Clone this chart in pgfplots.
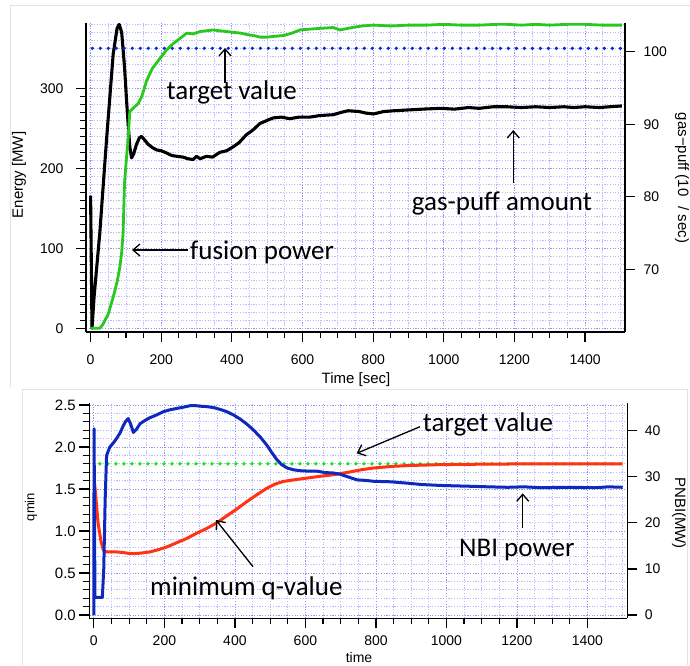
\documentclass[border=0pt]{standalone}
\usepackage{fontspec}
\setmainfont{Liberation Sans}
\newfontfamily\annfont{Carlito}
\usepackage{pgfplots}
\pgfplotsset{compat=1.18}
\usetikzlibrary{arrows.meta}

\definecolor{gridc}{RGB}{185,185,255}
\definecolor{gridm}{RGB}{145,145,250}
\definecolor{fgreen}{RGB}{40,200,30}
\definecolor{tblue}{RGB}{0,40,220}
\definecolor{qred}{RGB}{255,50,20}
\definecolor{nblue}{RGB}{15,40,190}
\definecolor{tgreen}{RGB}{20,235,20}
\definecolor{framec}{RGB}{225,225,225}

\pgfplotsset{
 base/.style={scale only axis, xmin=-13, xmax=1513,
   /pgf/number format/assume math mode=true, /pgf/number format/1000 sep={},
   ticklabel style={font=\fontsize{14}{16}\selectfont},
   axis line style={black, line width=1.6pt, -},
   tick style={black, line width=1.2pt},
   major tick length=10pt, minor tick length=6pt, tick align=outside},
 gridax/.style={scale only axis, xmin=-13, xmax=1513,
   axis line style={draw=none}, xtick distance=200, minor x tick num=3,
   xticklabels={}, yticklabels={}, major tick length=0pt, minor tick length=0pt,
   grid=both,
   minor grid style={gridc, dash pattern=on 1.2pt off 1.5pt, line width=0.8pt},
   major grid style={gridm, dash pattern=on 1.2pt off 1.5pt, line width=0.8pt}},
}
\tikzset{
 ann/.style={font=\annfont\fontsize{27}{30}\selectfont, inner sep=0pt},
 arr/.style={line width=1.3pt, -{Straight Barb[length=7pt,width=12pt]}},
}

\begin{document}
\begin{tikzpicture}
\useasboundingbox (0,0) rectangle (690pt,665pt);
% panel frames
\draw[framec, line width=1pt] (10pt,278pt) -- (10pt,659pt) -- (690pt,659pt);
\draw[framec, line width=1pt] (22pt,0pt) -- (22pt,276pt) -- (687pt,276pt) -- (687pt,0pt);

% ===== TOP =====
\begin{axis}[gridax, at={(86pt,333.3pt)}, anchor=south west, width=539pt, height=308.4pt,
  ymin=-4.2, ymax=381.3, ytick distance=100, minor y tick num=9]
\addplot[draw=none] coordinates {(0,0)};
\end{axis}

\begin{axis}[base, at={(86pt,333.3pt)}, anchor=south west, width=539pt, height=308.4pt,
  ymin=61.38, ymax=103.92, axis x line=none, axis y line*=right,
  ytick={70,80,90,100}, yticklabel style={xshift=5pt}]
\addplot[black, line width=3.1pt, line join=round] coordinates {
(0,80.16)(4,61.84)(10,66.26)(26,74.97)(45,87.78)(64,99.69)(75,103.22)(81,103.78)(88,102.67)
(96,97.93)(104,91.64)(111,86.89)(116,85.35)(122,85.90)(130,87.22)(138,88.11)(144,88.33)
(152,87.89)(163,87.22)(175,86.78)(187,86.45)(200,86.34)(216,86.01)(230,85.68)(245,85.57)
(262,85.46)(275,85.24)(290,85.13)(300,85.57)(310,85.24)(328,85.57)(345,85.46)(366,86.12)
(385,86.34)(404,86.89)(420,87.44)(441,88.55)(460,89.21)(479,90.09)(500,90.53)(517,90.87)
(540,90.98)(564,90.76)(590,90.98)(621,90.98)(650,91.20)(687,91.31)(710,91.64)(729,91.86)
(760,91.75)(780,91.53)(801,91.42)(830,91.75)(860,91.86)(900,91.97)(940,92.08)(990,92.19)
(1030,92.08)(1070,92.30)(1100,92.19)(1140,92.41)(1178,92.41)(1220,92.30)(1260,92.41)
(1300,92.30)(1340,92.41)(1367,92.30)(1400,92.41)(1440,92.30)(1470,92.41)(1504,92.52)};
\end{axis}

\begin{axis}[base, at={(86pt,333.3pt)}, anchor=south west, width=539pt, height=308.4pt,
  ymin=-4.2, ymax=381.3, axis x line*=bottom, axis y line*=left,
  xtick={0,200,...,1400}, minor x tick num=3,
  ytick={0,100,200,300}, minor y tick num=9,
  xticklabel style={yshift=-9pt}, yticklabel style={xshift=-9pt}]
\addplot[tblue, line width=3.6pt, line cap=round, dash pattern=on 0pt off 8pt] coordinates {(5,350)(1500,350)};
\addplot[fgreen, line width=2.8pt, line join=round] coordinates {
(0,0)(26,0)(35,5)(50,18)(64,39)(75,58)(83,77)(88,95)(92,119)(96,181)(101,210)(106,235)
(111,271)(120,275)(135,281)(145,290)(159,310)(175,325)(196,337)(215,348)(234,356)(255,363)
(272,369)(290,368)(310,371)(330,372)(347,373)(365,372)(385,371)(404,370)(425,369)(445,367)
(462,366)(480,364)(500,364)(520,365)(546,366)(570,369)(593,373)(620,374)(650,375)(687,376)
(706,373)(740,376)(770,378)(801,379)(850,378)(900,379)(950,379)(1000,380)(1050,379)
(1100,379)(1150,380)(1178,380)(1220,379)(1260,380)(1300,379)(1350,380)(1400,380)
(1450,379)(1504,379)};
\end{axis}

% ===== BOTTOM =====
\begin{axis}[gridax, at={(89.3pt,46.7pt)}, anchor=south west, width=538pt, height=215pt,
  ymin=-0.04, ymax=2.52, ytick distance=0.5, minor y tick num=4]
\addplot[draw=none] coordinates {(0,0)};
\end{axis}

\begin{axis}[base, at={(89.3pt,46.7pt)}, anchor=south west, width=538pt, height=215pt,
  ymin=-0.04, ymax=2.52, axis x line*=bottom, axis y line*=left,
  xtick={0,200,...,1400}, minor x tick num=3,
  ytick={0,0.5,...,2.5}, minor y tick num=4,
  xticklabel style={yshift=-4pt},
  yticklabel style={/pgf/number format/fixed, /pgf/number format/fixed zerofill, /pgf/number format/precision=1, font=\fontsize{15}{17}\selectfont}]
\addplot[tgreen, line width=3.8pt, line cap=round, dash pattern=on 0pt off 8pt] coordinates {(17,1.8)(1500,1.8)};
\addplot[qred, line width=3pt, line join=round] coordinates {
(2,1.57)(12,1.09)(20,0.88)(27,0.77)(36,0.75)(50,0.75)(64,0.75)(80,0.745)(95,0.735)(112,0.73)
(130,0.735)(159,0.75)(185,0.78)(207,0.81)(235,0.86)(263,0.91)(290,0.97)(320,1.03)(350,1.10)
(377,1.18)(405,1.26)(434,1.35)(462,1.43)(491,1.51)(515,1.56)(538,1.59)(570,1.61)(605,1.63)
(640,1.65)(680,1.67)(723,1.70)(760,1.73)(794,1.75)(850,1.77)(900,1.78)(984,1.79)(1100,1.795)
(1268,1.80)(1500,1.80)};
\end{axis}

\begin{axis}[base, at={(89.3pt,46.7pt)}, anchor=south west, width=538pt, height=215pt,
  ymin=-0.716, ymax=45.92, axis x line=none, axis y line*=right,
  ytick={0,10,20,30,40}, yticklabel style={xshift=4pt}]
\addplot[nblue, line width=3pt, line join=round] coordinates {
(0,0)(0.5,40.4)(3,3.8)(24,3.8)(28,10)(32,25)(36,34.6)(45,36.4)(55,37.3)(64.5,38.3)(75,39.6)
(83,41.0)(90,42.0)(97,42.6)(104,41.5)(112,39.6)(120,40.2)(131,41.5)(145,42.2)(159,42.8)
(178,43.4)(197,44.1)(215,44.5)(235,44.8)(255,45.1)(273,45.4)(290,45.4)(301,45.3)(320,45.2)
(339,45.0)(358,44.6)(377,44.1)(396,43.4)(415,42.5)(434,41.4)(453,40.1)(472,38.6)(491,36.8)
(505,35.2)(519,33.7)(533,32.6)(548,31.9)(566,31.5)(585,31.3)(610,31.2)(633,31.2)(655,30.9)
(680,30.8)(700,30.5)(723,29.9)(747,29.3)(770,29.2)(794,29.0)(840,28.9)(889,28.6)(930,28.3)
(984,28.1)(1030,28.0)(1079,27.9)(1120,27.8)(1174,27.7)(1220,27.8)(1270,27.6)(1320,27.7)
(1363,27.7)(1420,27.6)(1460,27.8)(1500,27.7)};
\end{axis}

% ===== axis titles =====
\node[font=\fontsize{15}{17}\selectfont, anchor=base] at (356pt,282pt) {Time [sec]};
\node[font=\fontsize{15}{17}\selectfont, rotate=90] at (19pt,490pt) {Energy [MW]};
\node[font=\fontsize{15}{17}\selectfont, rotate=-90] at (682pt,487pt) {gas−puff (10\hspace{10pt}/ sec)};
\node[font=\fontsize{13}{15}\selectfont, rotate=90] at (31pt,158pt) {qmin};
\node[font=\fontsize{15}{17}\selectfont, rotate=-90] at (679pt,152pt) {PNBI(MW)};
\node[font=\fontsize{14}{16}\selectfont, anchor=base] at (359pt,3pt) {time};

% ===== annotations =====
\node[ann, anchor=base] at (231.7pt,565pt) {target value};
\draw[arr] (225pt,582pt) -- (225pt,617pt);
\node[ann, anchor=base west] at (190pt,406pt) {fusion power};
\draw[arr] (188pt,415pt) -- (132pt,415pt);
\node[ann, anchor=base west] at (411.7pt,454.3pt) {gas-puff amount};
\draw[arr] (513.3pt,482pt) -- (513.3pt,535pt);

\node[ann, anchor=base west] at (150pt,70pt) {minimum q-value};
\draw[arr] (253pt,98.3pt) -- (216pt,145pt);
\node[ann, anchor=base west] at (422.7pt,233.3pt) {target value};
\draw[arr] (420pt,238.3pt) -- (356.7pt,211.7pt);
\node[ann, anchor=base west] at (459pt,108.3pt) {NBI power};
\draw[arr] (522.7pt,136.7pt) -- (522.7pt,171.7pt);
\end{tikzpicture}
\end{document}
